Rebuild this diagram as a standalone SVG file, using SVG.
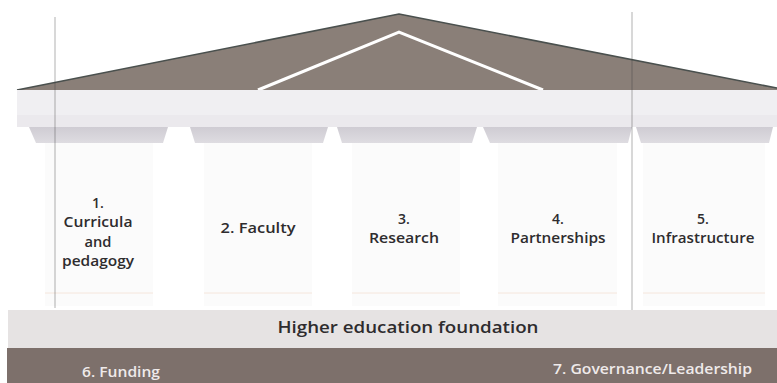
<svg xmlns="http://www.w3.org/2000/svg" width="777" height="383" viewBox="0 0 777 383">
  <defs>
    <linearGradient id="capGrad" x1="0" y1="0" x2="0" y2="1">
      <stop offset="0" stop-color="#cfccd3"/>
      <stop offset="1" stop-color="#dedce1"/>
    </linearGradient>
    <style>
      .lbl-s { font-family: "Open Sans", "DejaVu Sans", sans-serif; font-weight: 600; font-size: 14px; fill: #2e2c2e; text-anchor: middle; }
      .base { font-family: "Open Sans", "DejaVu Sans", sans-serif; font-weight: 600; font-size: 16px; fill: #2e2c2e; text-anchor: middle; }
      .pillar-txt { font-family: "Open Sans", "DejaVu Sans", sans-serif; font-weight: 600; font-size: 14px; fill: #efeaea; }
      .shaft { fill: #fbfbfb; }
      .cap { fill: url(#capGrad); }
      .ring { stroke: #f5e6dc; stroke-width: 1; }
      .fold { stroke: #3f3f3f; stroke-width: 1; stroke-opacity: 0.4; }
    </style>
  </defs>

  <rect width="777" height="383" fill="#ffffff"/>

  <!-- pediment -->
  <g id="roof">
    <polygon points="17,90 399,14 777,88 777,90" fill="#8a7f78"/>
    <polyline points="17,90 399,14 777,88" fill="none" stroke="#4a504e" stroke-width="1.6" stroke-linejoin="round"/>
    <polyline points="258,90 399,32 543,90" fill="none" stroke="#ffffff" stroke-width="3" stroke-linejoin="miter"/>
  </g>

  <!-- entablature and capitals -->
  <g id="entablature">
    <rect x="17" y="90" width="760" height="37" fill="#f0eff2"/>
    <rect x="17" y="115" width="760" height="12" fill="#ebe9ed"/>
    <polygon class="cap" points="29,127 168,127 163,143 36,143"/>
    <polygon class="cap" points="190,127 328,127 323,143 195,143"/>
    <polygon class="cap" points="337,127 477,127 472,143 342,143"/>
    <polygon class="cap" points="483,127 632,127 628,143 490,143"/>
    <polygon class="cap" points="636,127 773,127 769,143 641,143"/>
  </g>

  <!-- columns -->
  <g id="pillar-1">
    <rect class="shaft" x="45" y="143" width="108" height="163"/>
    <line class="ring" x1="45" y1="293" x2="153" y2="293"/>
    <text class="lbl-s" x="98" y="207.5">1.</text>
    <text class="lbl-s" x="98" y="227" textLength="69" lengthAdjust="spacingAndGlyphs">Curricula</text>
    <text class="lbl-s" x="98" y="246.5" textLength="27" lengthAdjust="spacingAndGlyphs">and</text>
    <text class="lbl-s" x="98" y="266" textLength="72" lengthAdjust="spacingAndGlyphs">pedagogy</text>
  </g>
  <g id="pillar-2">
    <rect class="shaft" x="204" y="143" width="108" height="163"/>
    <line class="ring" x1="204" y1="293" x2="312" y2="293"/>
    <text class="lbl-s" x="258" y="233" textLength="75" lengthAdjust="spacingAndGlyphs">2. Faculty</text>
  </g>
  <g id="pillar-3">
    <rect class="shaft" x="352" y="143" width="108" height="163"/>
    <line class="ring" x1="352" y1="293" x2="460" y2="293"/>
    <text class="lbl-s" x="404" y="223.5">3.</text>
    <text class="lbl-s" x="404" y="243" textLength="70" lengthAdjust="spacingAndGlyphs">Research</text>
  </g>
  <g id="pillar-4">
    <rect class="shaft" x="498" y="143" width="119" height="163"/>
    <line class="ring" x1="498" y1="293" x2="617" y2="293"/>
    <text class="lbl-s" x="558" y="223.5">4.</text>
    <text class="lbl-s" x="558" y="243" textLength="95" lengthAdjust="spacingAndGlyphs">Partnerships</text>
  </g>
  <g id="pillar-5">
    <rect class="shaft" x="643" y="143" width="122" height="163"/>
    <line class="ring" x1="643" y1="293" x2="765" y2="293"/>
    <text class="lbl-s" x="703" y="223.5">5.</text>
    <text class="lbl-s" x="703" y="243" textLength="103" lengthAdjust="spacingAndGlyphs">Infrastructure</text>
  </g>

  <!-- foundation -->
  <g id="foundation">
    <rect x="8" y="310" width="769" height="38" fill="#e6e3e3"/>
    <text class="base" x="408" y="333" textLength="261" lengthAdjust="spacingAndGlyphs">Higher education  foundation</text>
  </g>

  <!-- base supports -->
  <g id="base">
    <rect x="7" y="348" width="770" height="35" fill="#7d706b"/>
    <text id="funding" class="pillar-txt" x="82" y="377" textLength="78" lengthAdjust="spacingAndGlyphs">6. Funding</text>
    <text id="governance" class="pillar-txt" x="553" y="374" textLength="199" lengthAdjust="spacingAndGlyphs">7. Governance/Leadership</text>
  </g>

  <!-- page folds -->
  <g id="folds">
    <line class="fold" x1="55" y1="17" x2="55" y2="308"/>
    <line class="fold" x1="632" y1="12" x2="632" y2="310"/>
  </g>
</svg>
